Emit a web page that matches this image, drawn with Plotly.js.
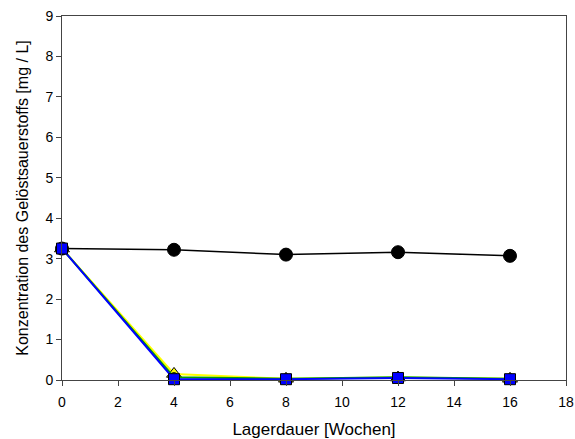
<!DOCTYPE html>
<html><head><meta charset="utf-8">
<script src="https://cdn.plot.ly/plotly-3.0.1.min.js"></script>
<style>html,body{margin:0;padding:0;background:#fff}#c{width:575px;height:439px}</style>
</head><body><div id="c"></div>
<script>
const weeks = [0, 4, 8, 12, 16];
const seriesBlack = [3.25, 3.22, 3.10, 3.16, 3.07];
const seriesYellow = [3.25, 0.15, 0.03, 0.06, 0.03];
const seriesGreen = [3.25, 0.07, 0.03, 0.07, 0.03];
const seriesBlue = [3.25, 0.02, 0.02, 0.05, 0.02];

function tr(y, color, sym, size, lw) {
  return {x: weeks, y: y, mode: 'lines+markers', type: 'scatter', cliponaxis: false,
    line: {color: color, width: lw},
    marker: {color: color, symbol: sym, size: size, line: {color: '#000', width: 1}},
    showlegend: false};
}
const data = [
  tr(seriesBlack, '#000000', 'circle', 13, 1.5),
  tr(seriesYellow, '#ffff00', 'triangle-up', 13, 2),
  tr(seriesGreen, '#00a000', 'circle', 9, 2),
  tr(seriesBlue, '#0000ff', 'square', 11, 2)
];
const layout = {
  width: 575, height: 439,
  margin: {l: 62, r: 9, t: 16, b: 59},
  paper_bgcolor: '#fff', plot_bgcolor: '#fff',
  font: {family: 'Liberation Sans, Arial, sans-serif', size: 14, color: '#000'},
  xaxis: {range: [0, 18], tickvals: [0,2,4,6,8,10,12,14,16,18], ticks: 'outside', ticklen: 5,
    tickcolor: '#444', showline: true, linecolor: '#444', linewidth: 1, mirror: true,
    showgrid: false, zeroline: false, tickfont: {size: 14}, ticklabelstandoff: 4,
    title: {text: 'Lagerdauer [Wochen]', font: {size: 17}, standoff: 16}},
  yaxis: {range: [0, 9], tickvals: [0,1,2,3,4,5,6,7,8,9], ticks: 'outside', ticklen: 5,
    tickcolor: '#444', showline: true, linecolor: '#444', linewidth: 1, mirror: true,
    showgrid: false, zeroline: false, tickfont: {size: 14},
    title: {text: 'Konzentration des Gelöstsauerstoffs [mg / L]', font: {size: 16}, standoff: 12}}
};
Plotly.newPlot('c', data, layout, {staticPlot: true, displayModeBar: false});
</script></body></html>
